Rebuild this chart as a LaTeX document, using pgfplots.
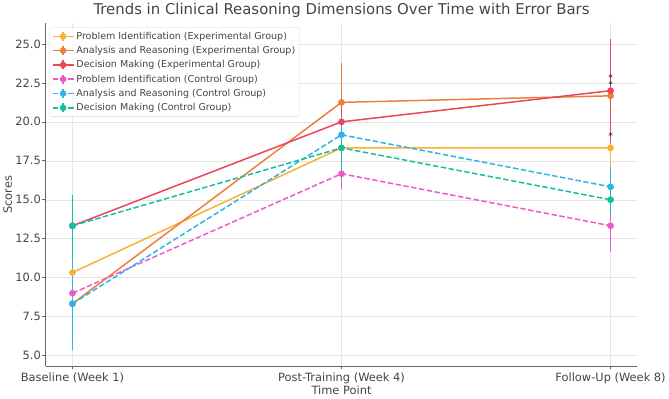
\documentclass[border=0pt]{standalone}
\usepackage{pgfplots}
\pgfplotsset{compat=1.18}
\usepackage{fontspec}
\setmainfont{DejaVu Sans}

\definecolor{cPIe}{HTML}{F8B133}
\definecolor{cARe}{HTML}{F07D3C}
\definecolor{cDMe}{HTML}{EB465A}
\definecolor{cPIc}{HTML}{F05AC8}
\definecolor{cARc}{HTML}{2BB4E8}
\definecolor{cDMc}{HTML}{14BEA0}
\definecolor{txt}{HTML}{444444}

\pgfplotsset{
  series/.style={color=#1, line width=1.5pt, mark=*, mark size=2.6pt, mark options={solid}},
  errs/.style={error bars/.cd, y dir=both, y explicit,
    error bar style={line width=1.8pt, solid}, error mark=none},
  dsh/.style={dash pattern=on 5.5pt off 2.5pt},
  errleg/.style={legend image code/.code={
    \draw[##1] (0cm,0cm) -- (0.75cm,0cm);
    \draw[##1, solid, line width=1.5pt] (0.375cm,-0.16cm) -- (0.375cm,0.16cm);
    \fill[##1, solid] (0.375cm,0cm) circle (2.5pt);}},
}

\begin{document}
\begin{tikzpicture}
\begin{axis}[
  scale only axis,
  width=594bp, height=344bp,
  xmin=-0.1, xmax=2.1, ymin=4.33, ymax=26.33,
  axis x line*=bottom, axis y line*=left,
  axis line style={black!60, line width=0.8pt},
  xtick={0,1,2},
  xticklabels={Baseline (Week 1),Post-Training (Week 4),Follow-Up (Week 8)},
  ytick={5,7.5,...,25},
  yticklabel style={/pgf/number format/.cd, fixed, fixed zerofill, precision=1, /tikz/.cd, inner xsep=1pt},
  /pgf/number format/assume math mode=true,
  tick align=outside, tick style={black!60, line width=0.6pt},
  major tick length=3.5pt,
  ticklabel style={font=\fontsize{11.5}{13}\selectfont, text=txt},
  grid=major, grid style={black!10, line width=0.5pt},
  xlabel={Time Point}, ylabel={Scores},
  label style={font=\fontsize{11.5}{13}\selectfont, text=txt},
  xlabel style={yshift=5pt}, ylabel style={yshift=-1pt},
  title={Trends in Clinical Reasoning Dimensions Over Time with Error Bars},
  title style={font=\fontsize{15}{17}\selectfont, text=txt, yshift=-4pt},
  legend cell align=left,
  legend style={at={(0.006,0.988)}, anchor=north west, font=\fontsize{9.6}{11}\selectfont,
    text=txt, draw=black!15, rounded corners=2pt, fill=white, fill opacity=0.8,
    text opacity=1, row sep=1.6pt, inner sep=2.5pt},
]
\addplot[series=cPIe, errleg, errs] coordinates {
  (0,10.33) +- (0,1.0)
  (1,18.33) +- (0,1.0)
  (2,18.33) +- (0,1.25)
};
\addlegendentry{Problem Identification (Experimental Group)}
\addplot[series=cARe, errleg, errs] coordinates {
  (0,8.33) +- (0,1.5)
  (1,21.25) +- (0,2.5)
  (2,21.67) +- (0,2.0)
};
\addlegendentry{Analysis and Reasoning (Experimental Group)}
\addplot[series=cDMe, errleg, errs] coordinates {
  (0,13.33) +- (0,1.5)
  (1,20.0) +- (0,1.5)
  (2,22.0) +- (0,3.33)
};
\addlegendentry{Decision Making (Experimental Group)}
\addplot[series=cPIc, dsh, errleg, errs] coordinates {
  (0,9.0) +- (0,1.0)
  (1,16.67) +- (0,1.0)
  (2,13.33) +- (0,1.67)
};
\addlegendentry{Problem Identification (Control Group)}
\addplot[series=cARc, dsh, errleg, errs] coordinates {
  (0,8.33) +- (0,3.0)
  (1,19.17) +- (0,1.0)
  (2,15.83) +- (0,1.25)
};
\addlegendentry{Analysis and Reasoning (Control Group)}
\addplot[series=cDMc, dsh, errleg, errs] coordinates {
  (0,13.33) +- (0,2.0)
  (1,18.33) +- (0,2.0)
  (2,15.0) +- (0,1.0)
};
\addlegendentry{Decision Making (Control Group)}
\addplot[only marks, mark=asterisk, mark size=2.2pt, black!80, forget plot] coordinates {
  (2,22.93) (2,22.5) (2,19.2)
};
\end{axis}
\end{tikzpicture}
\end{document}
